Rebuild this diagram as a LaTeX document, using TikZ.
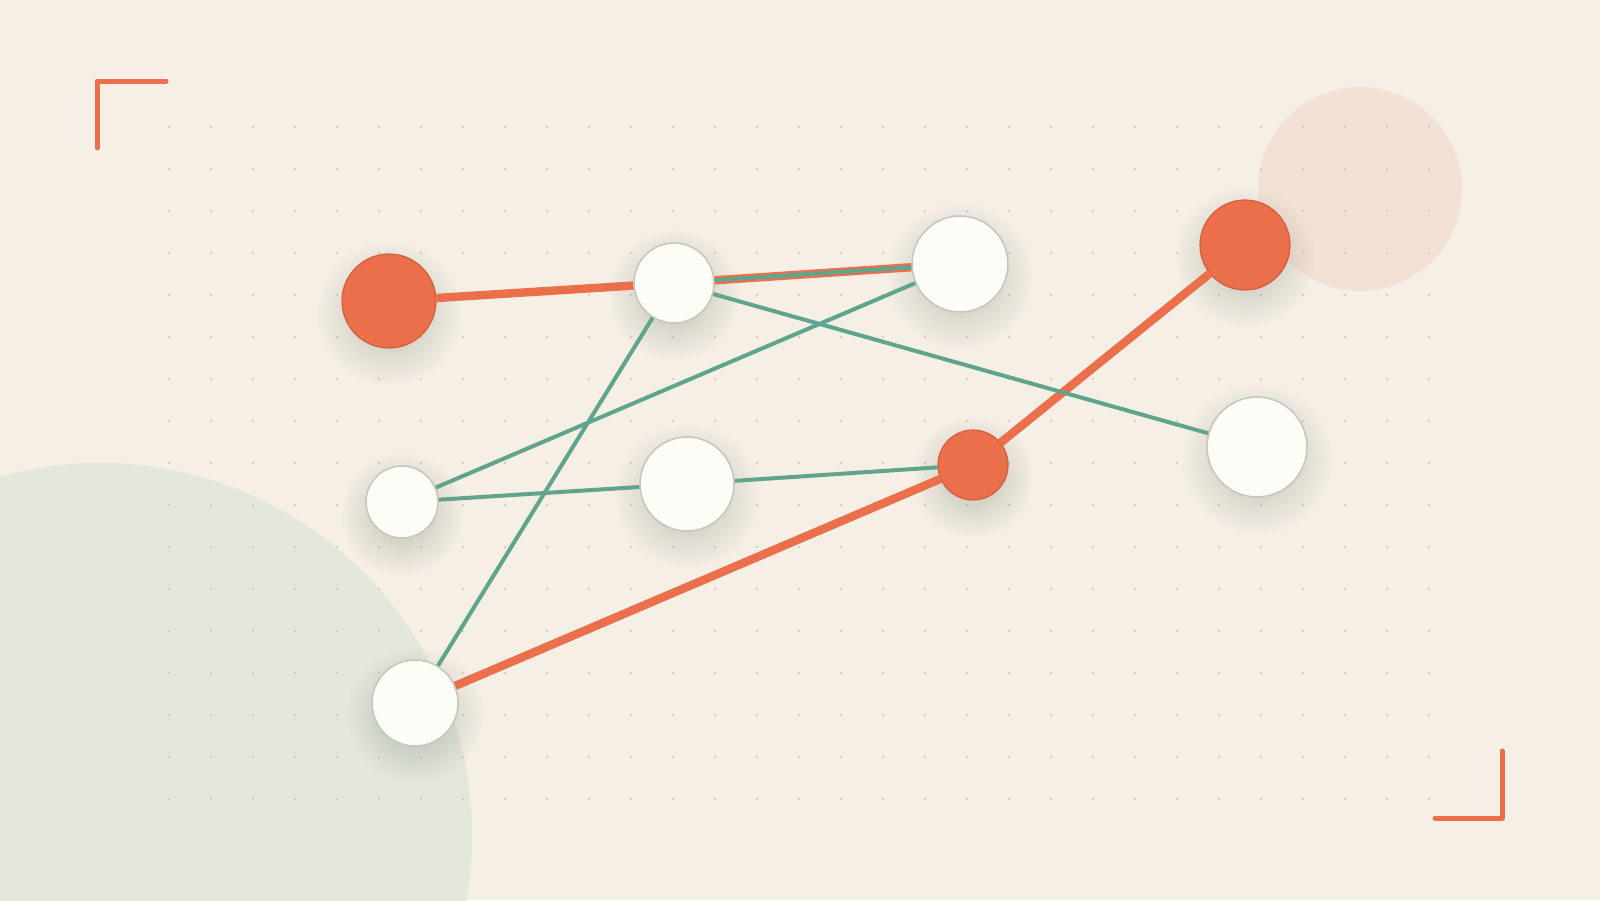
\documentclass[tikz,border=0pt]{standalone}
\usetikzlibrary{fadings}
\definecolor{paper}{HTML}{F5EFE6}
\definecolor{sage}{HTML}{E3E7DC}
\definecolor{blush}{HTML}{F3E1D5}
\definecolor{speck}{HTML}{D3CCC0}
\definecolor{hot}{HTML}{EC6F4B}
\definecolor{hotrim}{HTML}{D25E3D}
\definecolor{sea}{HTML}{5FA58D}
\definecolor{snow}{HTML}{FDFCF7}
\definecolor{rim}{HTML}{C6C8C0}
\definecolor{murk}{HTML}{7E8878}
\pgfdeclareradialshading{halofade}{\pgfpointorigin}{color(0bp)=(pgftransparent!0); color(11bp)=(pgftransparent!0); color(25bp)=(pgftransparent!100); color(50bp)=(pgftransparent!100)}
\pgfdeclarefading{halo}{\pgfuseshading{halofade}}
\pgfdeclarelayer{back}
\pgfsetlayers{back,main}
\begin{document}
\begin{tikzpicture}[x=0.5pt,y=-0.5pt,
        hub/.style={circle,inner sep=0pt,fill=hot,draw=hotrim,line width=0.6pt},
        leaf/.style={circle,inner sep=0pt,fill=snow,draw=rim,line width=0.8pt},
        glow/.style={fill=murk,fill opacity=0.26,path fading=halo},
        hotlink/.style={draw=hot,line width=4.2pt},
        coldlink/.style={draw=sea,line width=2pt},
        corner/.style={draw=hot,line width=2.5pt,line cap=round,line join=round}]
        %% Backdrop
        \clip (0,0) rectangle (1600,900);
        \begin{pgfonlayer}{back}
        \fill[paper] (0,0) rectangle (1600,900);
        \fill[sage]  (100,835) circle [radius=186pt];
        \fill[blush] (1360,189) circle [radius=51pt];
        \foreach \i in {0,...,30} {
            \foreach \j in {0,...,16} {
                \fill[speck] (169+42*\i,127+42*\j) circle [radius=0.7pt];
            }
        }
        \end{pgfonlayer}
        %% Corners
        \draw[corner] (97,148) -- (97,81) -- (166,81);
        \draw[corner] (1502,751) -- (1502,818) -- (1435,818);
        %% Nodes
        \node[hub,minimum size=47pt]  (a) at (389,301) {};
        \node[leaf,minimum size=40pt] (b) at (674,283) {};
        \node[leaf,minimum size=48pt] (c) at (960,264) {};
        \node[hub,minimum size=45pt]  (d) at (1245,245) {};
        \node[hub,minimum size=35pt]  (e) at (973,465) {};
        \node[leaf,minimum size=50pt] (f) at (1257,447) {};
        \node[leaf,minimum size=36pt] (g) at (402,502) {};
        \node[leaf,minimum size=47pt] (h) at (687,484) {};
        \node[leaf,minimum size=43pt] (i) at (415,703) {};
        %% Shadows
        \begin{pgfonlayer}{back}
        \foreach \n/\r in {a/47,b/40,c/48,d/45,e/35,f/50,g/36,h/47,i/43}
            \fill[glow] ([yshift=-6pt]\n.center) circle [radius=\r pt/2+13pt];
        \end{pgfonlayer}
        %% Links
        \draw[hotlink] (a) -- (b);
        \draw[hotlink] (b) -- (c);
        \draw[hotlink] (e) -- (d);
        \draw[hotlink] (i) -- (e);
        \draw[coldlink] (b) -- (c);
        \draw[coldlink] (b) -- (f);
        \draw[coldlink] (b) -- (i);
        \draw[coldlink] (g) -- (c);
        \draw[coldlink] (g) -- (h);
        \draw[coldlink] (h) -- (e);
    \end{tikzpicture}
\end{document}
